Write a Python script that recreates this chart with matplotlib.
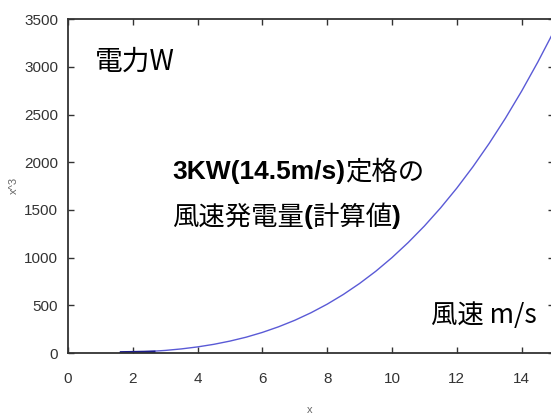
import matplotlib
matplotlib.use("Agg")
import matplotlib.pyplot as plt

# wind speed (m/s) and computed power (x^3)
wind = [1.6, 2.0, 2.5, 3.0, 3.5, 4.0, 4.5, 5.0, 5.5, 6.0, 6.5, 7.0, 7.5, 8.0,
        8.5, 9.0, 9.5, 10.0, 10.5, 11.0, 11.5, 12.0, 12.5, 13.0, 13.5, 14.0,
        14.5, 15.0]
power = [4, 8, 16, 27, 43, 64, 91, 125, 166, 216, 275, 343, 422, 512,
         614, 729, 857, 1000, 1158, 1331, 1521, 1728, 1953, 2197, 2460, 2744,
         3049, 3375]
# dark, thicker start of the curve
wind_start = [1.6, 2.0, 2.3, 2.7]
power_start = [4, 6, 8, 10]

xticks = [0, 2, 4, 6, 8, 10, 12, 14]
yticks = [0, 500, 1000, 1500, 2000, 2500, 3000, 3500]

tick_font = ["Liberation Sans", "DejaVu Sans"]
jp = ["Noto Sans CJK JP", "DejaVu Sans"]

fig = plt.figure(figsize=(5.51, 4.2), dpi=100)
ax = fig.add_axes([0.1234, 0.1595, 0.882, 0.795])

ax.plot(wind, power, color="#5a5ad6", lw=1.0)
ax.plot(wind_start, power_start, color="#1c1c8a", lw=2.2, solid_capstyle="butt")

ax.set_xlim(0, 15)
ax.set_ylim(0, 3500)
ax.set_xticks(xticks)
ax.set_yticks(yticks)
ax.tick_params(direction="in", length=4, width=1, color="#333333",
               top=True, right=True, labelsize=11, labelcolor="#333333")
ax.tick_params(axis="x", pad=14)
ax.tick_params(axis="y", pad=7)
for lab in ax.get_xticklabels() + ax.get_yticklabels():
    lab.set_family(tick_font)
for s in ax.spines.values():
    s.set_color("#333333")
    s.set_linewidth(1.3)

ax.set_xlabel("x", fontsize=8, color="#666666", family=tick_font, va="center")
ax.set_ylabel("x^3", fontsize=8, color="#666666", family=tick_font, va="center")
ax.xaxis.set_label_coords(0.498, -0.172)
ax.yaxis.set_label_coords(-0.111, 0.503)

fig.text(0.172, 0.852, "電力W", fontsize=20, family=jp, va="center")
fig.text(0.783, 0.250, "風速 m/s", fontsize=19, family=jp, va="center")

fig.canvas.draw()
r = fig.canvas.get_renderer()
fs = 19
t1 = fig.text(0.312, 0.590, "3KW(14.5m/s)", fontsize=fs, weight="bold",
              family=tick_font, va="center")
bb = t1.get_window_extent(r).transformed(fig.transFigure.inverted())
fig.text(bb.x1, 0.590, "定格の", fontsize=fs, family=jp, va="center")

t2 = fig.text(0.312, 0.483, "風速発電量", fontsize=fs, family=jp, va="center")
bb = t2.get_window_extent(r).transformed(fig.transFigure.inverted())
t3 = fig.text(bb.x1, 0.483, "(", fontsize=fs, weight="bold",
              family=tick_font, va="center")
bb = t3.get_window_extent(r).transformed(fig.transFigure.inverted())
t4 = fig.text(bb.x1, 0.483, "計算値", fontsize=fs, family=jp, va="center")
bb = t4.get_window_extent(r).transformed(fig.transFigure.inverted())
fig.text(bb.x1, 0.483, ")", fontsize=fs, weight="bold",
         family=tick_font, va="center")

fig.savefig("out.png", dpi=100)
